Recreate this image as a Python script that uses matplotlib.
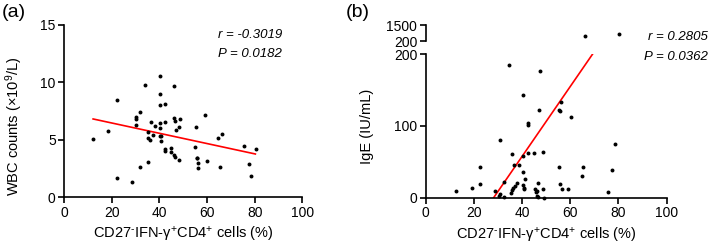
"""
Correlation of CD27-IFN-g+CD4+ cells with WBC counts and IgE
"""

import numpy as np
import matplotlib
matplotlib.use("Agg")
import matplotlib.pyplot as plt

plt.rcParams['font.family'] = ['Liberation Sans', 'DejaVu Sans']
plt.rcParams['mathtext.fontset'] = 'custom'
plt.rcParams['mathtext.rm'] = 'Liberation Sans'
plt.rcParams['mathtext.it'] = 'Liberation Sans:italic'

# ---- data ----
wbc_x = [12.2, 18.6, 22.2, 22.2, 28.4, 30.1, 30.1, 30.3, 31.9, 31.9,
         34.0, 35.1, 35.4, 36.0, 35.4, 36.4, 37.5, 38.3, 40.1, 40.1,
         40.1, 40.1, 40.1, 40.1, 40.8, 40.8, 42.3, 42.3, 42.4, 42.4,
         45.0, 44.9, 46.0, 46.7, 46.3, 46.2, 46.4, 47.1, 48.4, 48.8,
         48.1, 55.0, 55.5, 55.7, 55.9, 56.2, 56.1, 59.0, 60.1, 64.6,
         66.3, 65.3, 75.5, 77.5, 78.6, 80.4]
wbc_y = [5.11, 5.81, 8.50, 1.68, 1.34, 6.97, 6.79, 6.32, 7.40, 2.64,
         9.81, 5.66, 5.19, 4.98, 3.10, 6.56, 5.43, 6.24, 10.6, 9.03,
         8.07, 6.50, 6.04, 5.37, 5.37, 4.90, 8.15, 6.59, 4.18, 4.06,
         4.32, 3.97, 3.66, 3.54, 9.72, 6.88, 6.67, 5.86, 6.15, 6.82,
         3.25, 4.38, 6.12, 3.45, 3.40, 2.95, 2.55, 7.17, 3.13, 5.14,
         5.51, 2.64, 4.50, 2.90, 1.88, 4.20]

ige_x = [12.7, 19.2, 22.7, 22.7, 28.9, 30.4, 30.8, 32.3, 32.4, 34.4,
         35.8, 35.6, 35.9, 36.1, 36.6, 37.8, 38.7, 40.5, 40.2, 40.4,
         40.5, 40.6, 41.3, 41.0, 42.5, 42.6, 42.5, 45.1, 45.5, 46.2,
         46.4, 46.3, 46.4, 47.4, 47.2, 48.6, 48.7, 49.1, 55.4, 55.9,
         55.5, 56.3, 55.8, 56.4, 59.1, 60.3, 64.7, 65.3, 75.5, 77.4,
         78.5, 66.2, 80.2, 45.8, 36.9, 31.0]
ige_y = [9.0, 13.5, 43.0, 19.5, 9.3, 2.5, 80.0, 22.0, 1.4, 185.0,
         61.5, 7.0, 11.0, 14.0, 46.0, 21.0, 46.0, 143.0, 58.0, 36.0,
         18.0, 13.0, 26.0, 12.5, 104.5, 102.0, 62.0, 62.0, 12.0, 10.0,
         21.0, 3.0, 1.4, 176.0, 122.0, 64.0, 12.0, 0.0, 122.0, 121.0,
         43.0, 134.0, 18.5, 12.0, 12.5, 112.5, 30.0, 43.0, 8.4, 38.0,
         75.0, 630.0, 793.0, 8.0, 16.0, 5.0]

# regression lines (end points)
fit_a_x = [12.2, 80.3]
fit_a_y = [6.82, 3.77]
fit_b_x = [28.2, 69.2]
fit_b_y = [0.0, 200.0]

stats_a = ("-0.3019", "0.0182")
stats_b = ("0.2805", "0.0362")

x_label = r'CD27$^{\text{-}}$IFN-γ$^{+}$CD4$^{+}$ cells (%)'


def style_axis(ax):
    for side in ('top', 'right'):
        ax.spines[side].set_visible(False)
    for side in ('left', 'bottom'):
        ax.spines[side].set_linewidth(1.2)
    ax.tick_params(width=1.2, length=4, labelsize=10, pad=2)


fig = plt.figure(figsize=(7.09, 2.47), dpi=100)

# ---- panel (a) ----
ax1 = fig.add_axes([0.0903, 0.2012, 0.3361, 0.6976])
ax1.scatter(wbc_x, wbc_y, s=8, color='black', zorder=3, clip_on=False, linewidths=0)
ax1.plot(fit_a_x, fit_a_y, color='red', lw=1.2)
ax1.set_xlim(0, 100)
ax1.set_ylim(0, 15)
ax1.set_xticks([0, 20, 40, 60, 80, 100])
ax1.set_yticks([0, 5, 10, 15])
ax1.set_xlabel(x_label, fontsize=10.5)
ax1.set_ylabel(r'WBC counts (×10$^{9}$/L)', fontsize=10.5)
ax1.yaxis.set_label_coords(-0.164, 0.41)
style_axis(ax1)
ax1.text(0.915, 0.94, f"r = {stats_a[0]}", transform=ax1.transAxes,
         ha='right', va='center', fontsize=9.5, style='italic')
ax1.text(0.915, 0.83, f"P = {stats_a[1]}", transform=ax1.transAxes,
         ha='right', va='center', fontsize=9.5, style='italic')

# ---- panel (b), broken y axis ----
ige_x = np.array(ige_x)
ige_y = np.array(ige_y)
low = ige_y <= 200

ax2 = fig.add_axes([0.6004, 0.1996, 0.3399, 0.5806])
ax2.scatter(ige_x[low], ige_y[low], s=8, color='black', zorder=3, clip_on=False, linewidths=0)
ax2.plot(fit_b_x, fit_b_y, color='red', lw=1.2)
ax2.set_xlim(0, 100)
ax2.set_ylim(0, 200)
ax2.set_xticks([0, 20, 40, 60, 80, 100])
ax2.set_yticks([0, 100, 200])
ax2.set_xlabel(x_label, fontsize=10.5)
ax2.set_ylabel('IgE (IU/mL)', fontsize=10.5)
ax2.yaxis.set_label_coords(-0.213, 0.5)
style_axis(ax2)

ax3 = fig.add_axes([0.6004, 0.8328, 0.3399, 0.0648], sharex=ax2)
ax3.patch.set_visible(False)
ax3.scatter(ige_x[~low], ige_y[~low], s=8, color='black', zorder=3, linewidths=0)
ax3.set_ylim(200, 1500)
ax3.set_yticks([200, 1500])
style_axis(ax3)
ax3.spines['bottom'].set_visible(False)
ax3.tick_params(axis='x', bottom=False, labelbottom=False)

fig.text(0.998, 0.849, f"r = {stats_b[0]}", ha='right', va='center',
         fontsize=9.5, style='italic')
fig.text(0.998, 0.770, f"P = {stats_b[1]}", ha='right', va='center',
         fontsize=9.5, style='italic')

# panel letters
fig.text(0.002, 0.985, '(a)', ha='left', va='top', fontsize=14)
fig.text(0.487, 0.985, '(b)', ha='left', va='top', fontsize=14)

plt.savefig('out.png', dpi=100)
plt.close()
